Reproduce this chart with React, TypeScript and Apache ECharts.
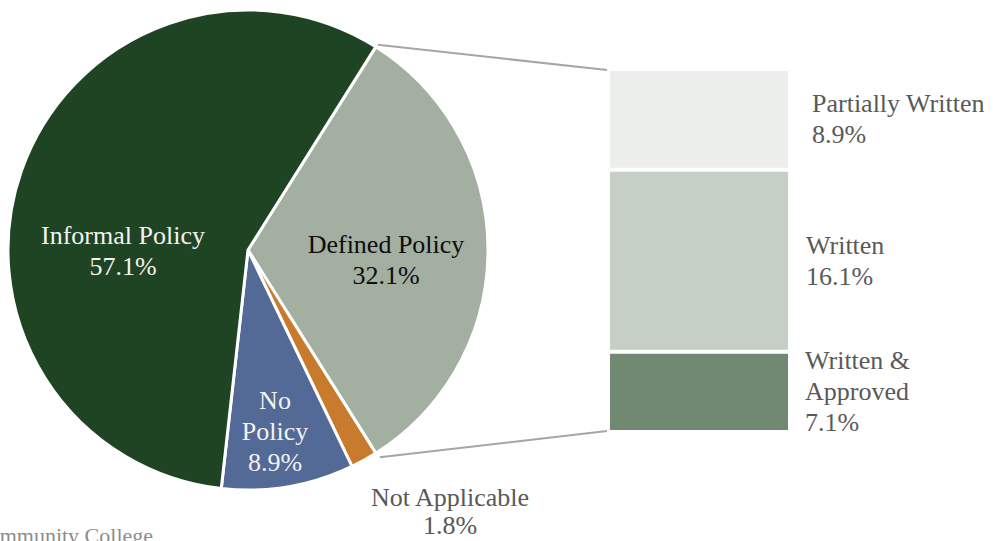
import React, { useEffect, useRef } from "react";
import * as echarts from "echarts";

// ---- data ----
const pieCategories = ["Defined Policy", "Not Applicable", "No Policy", "Informal Policy"];
const pieLabelNames = ["Defined Policy", "Not Applicable", "No\nPolicy", "Informal Policy"];
const pieValues = [32.1, 1.8, 8.9, 57.1];

const breakdownCategories = ["Written & Approved", "Written", "Partially Written"];
const breakdownLabelNames = ["Written &\nApproved", "Written", "Partially Written"];
const breakdownValues = [7.1, 16.1, 8.9];

const sourceNote = "Community College";

// ---- styles ----
const FONT = '"Liberation Serif", "Times New Roman", serif';
const pieColors = ["#a2afa1", "#c87b2c", "#536996", "#1f4423"];
const pieLabelColors = ["#0d0d0d", "#595959", "#f2f2f2", "#f2f2f2"];
const pieLabelCenters: [number, number][] = [
  [386, 260],
  [450, 511],
  [275, 431],
  [123, 251],
];
const pieLabelLineHeights = [31, 28, 31, 31];
const breakdownColors = ["#718872", "#c5cfc6", "#eceeeb"];
const breakdownLabelDistance = [15, 16, 22];

const PIE_CX = 248;
const PIE_CY = 250;
const PIE_R = 240;
const GRID_LEFT = 608;
const GRID_TOP = 69;
const GRID_W = 182;
const GRID_H = 363;

export default function App() {
  const ref = useRef<HTMLDivElement>(null);
  useEffect(() => {
    if (!ref.current) return;
    const chart = echarts.init(ref.current, null, { renderer: "svg" });
    const total = pieValues.reduce((a, b) => a + b, 0);
    const halfAngle = ((pieValues[0] / total) * 360) / 2;
    const rad = (halfAngle * Math.PI) / 180;
    const topPt = [PIE_CX + PIE_R * Math.cos(rad) + 2, PIE_CY - PIE_R * Math.sin(rad) - 2];
    const botPt = [PIE_CX + PIE_R * Math.cos(rad) + 4, PIE_CY + PIE_R * Math.sin(rad) + 4];
    const breakdownTotal = breakdownValues.reduce((a, b) => a + b, 0);

    chart.setOption({
      animation: false,
      textStyle: { fontFamily: FONT },
      grid: { left: GRID_LEFT, top: GRID_TOP, width: GRID_W, height: GRID_H },
      xAxis: { type: "category", data: ["breakdown"], show: false },
      yAxis: { type: "value", min: 0, max: breakdownTotal, show: false },
      series: [
        {
          type: "pie",
          center: [PIE_CX, PIE_CY],
          radius: PIE_R,
          startAngle: halfAngle,
          clockwise: true,
          avoidLabelOverlap: false,
          itemStyle: { borderColor: "#ffffff", borderWidth: 3 },
          emphasis: { disabled: true },
          labelLine: { show: false },
          label: {
            show: true,
            position: "inside",
            fontFamily: FONT,
            fontSize: 26,
            lineHeight: 31,
            align: "center",
          },
          labelLayout: (p: any) => {
            const c = pieLabelCenters[p.dataIndex];
            return { x: c[0], y: c[1], align: "center", verticalAlign: "middle" };
          },
          data: pieCategories.map((name, i) => ({
            name,
            value: pieValues[i],
            itemStyle: { color: pieColors[i] },
            label: {
              color: pieLabelColors[i],
              lineHeight: pieLabelLineHeights[i],
              formatter: `${pieLabelNames[i]}\n${pieValues[i].toFixed(1)}%`,
            },
          })),
        },
        ...breakdownCategories.map((name, i) => ({
          type: "bar",
          name,
          stack: "breakdown",
          barWidth: "100%",
          itemStyle: { color: breakdownColors[i], borderColor: "#ffffff", borderWidth: 2 },
          emphasis: { disabled: true },
          label: {
            show: true,
            position: "right",
            distance: breakdownLabelDistance[i],
            fontFamily: FONT,
            fontSize: 26,
            lineHeight: 31,
            color: "#595959",
            align: "left",
            formatter: `${breakdownLabelNames[i]}\n${breakdownValues[i].toFixed(1)}%`,
          },
          data: [breakdownValues[i]],
        })),
      ],
      graphic: [
        {
          type: "line",
          shape: { x1: topPt[0], y1: topPt[1], x2: GRID_LEFT - 1, y2: GRID_TOP + 1 },
          style: { stroke: "#a6a6a6", lineWidth: 2 },
          silent: true,
        },
        {
          type: "line",
          shape: { x1: botPt[0], y1: botPt[1], x2: GRID_LEFT - 1, y2: GRID_TOP + GRID_H - 1 },
          style: { stroke: "#a6a6a6", lineWidth: 2 },
          silent: true,
        },
        {
          type: "text",
          x: -26,
          y: 524,
          silent: true,
          style: {
            text: sourceNote,
            font: `22px ${FONT}`,
            fill: "#8c8c8c",
            verticalAlign: "top",
          },
        },
      ],
    });
    return () => chart.dispose();
  }, []);
  return (
    <div
      ref={ref}
      style={{ position: "absolute", left: 0, top: 0, width: 999, height: 541, background: "#ffffff" }}
    />
  );
}
